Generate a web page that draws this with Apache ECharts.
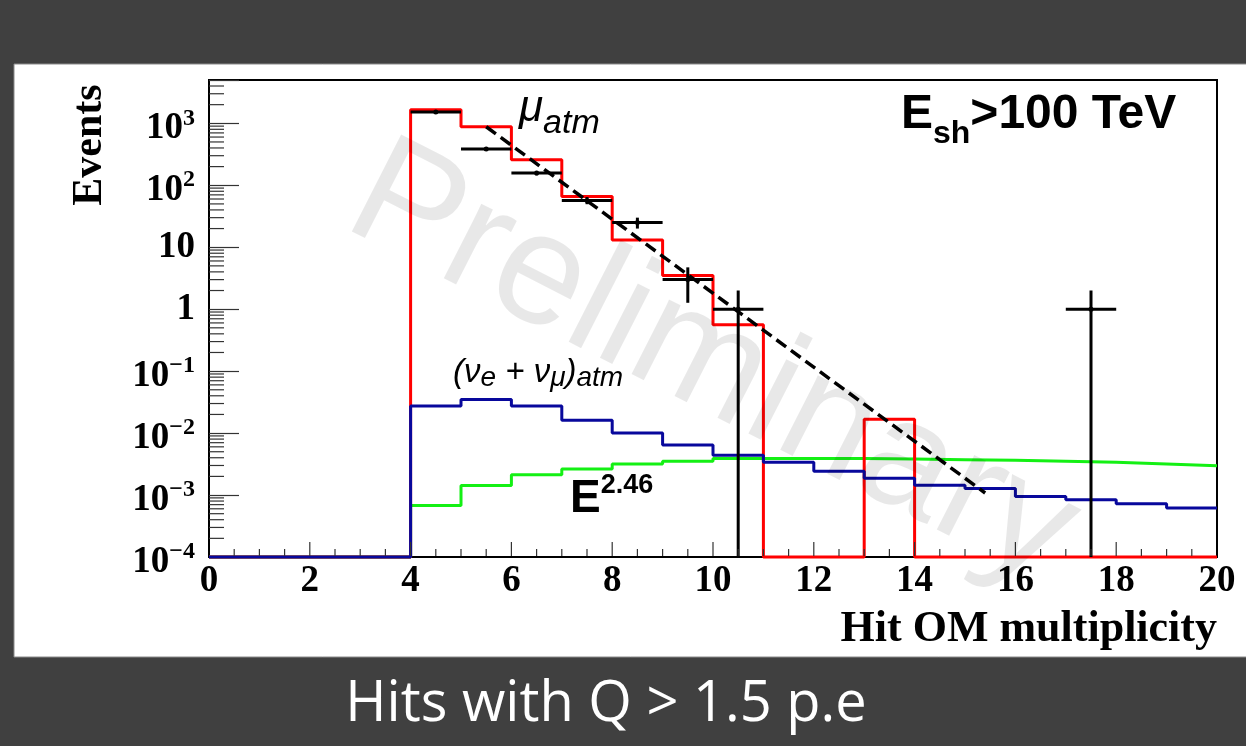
<!DOCTYPE html>
<html><head><meta charset="utf-8">
<script src="https://cdn.jsdelivr.net/npm/echarts@6/dist/echarts.min.js"></script>
<style>html,body{margin:0;padding:0;background:#404040;}#c{width:1246px;height:746px;}</style>
</head><body><div id="c"></div>
<script>
// ---- data ----
const X_MIN = 0, X_MAX = 20, Y_MIN = 1e-4, Y_MAX = 5000;
const binLow = [0,1,2,3,4,5,6,7,8,9,10,11,12,13,14,15,16,17,18,19];
// atmospheric muons (MC, red)
const muAtm = [0,0,0,0,1650,880,258,66,13.1,3.5,0.56,0,0,0.0168,0,0,0,0,0,0];
// atmospheric neutrinos (nu_e + nu_mu, blue)
const nuAtm = [0,0,0,0,0.0273,0.035,0.0273,0.0161,0.0100,0.0064,0.0044,0.00337,0.00242,0.00187,0.00144,0.00127,0.000947,0.000838,0.000722,0.000616];
// astrophysical E^-2.46 flux (green)
const astro = [0,0,0,0,0.00068,0.00142,0.00213,0.00264,0.00317,0.0035,0.0039,0.0039,0.00388,0.00381,0.00372,0.00363,0.0035,0.00337,0.00317,0.00298];
// observed data (black points, Poisson errors)
const dataX = [4.5,5.5,6.5,7.5,8.5,9.5,10.5,17.5];
const dataN = [1520,386,157,57,25,3,1,1];
// exponential fit (dashed)
const fitX = [5.5, 15.4];
const fitY = [880, 0.00108];
const xTickLabels = ['0','2','4','6','8','10','12','14','16','18','20'];

// ---- helpers ----
function stepData(vals){
  const d = binLow.map((x,i)=>[x, Math.max(vals[i], Y_MIN)]);
  d.push([X_MAX, Math.max(vals[vals.length-1], Y_MIN)]);
  return d;
}
const minorY = [];
for (let e=-4; e<=3; e++) for (let k=2; k<=9; k++){ const v=k*Math.pow(10,e); if (v<Y_MAX) minorY.push([X_MIN, v]); }
const ticksX = [];
for (let i=1; i<40; i++) ticksX.push([i*0.5, Y_MIN]);

const serif = 'Liberation Serif', sans = 'Liberation Sans';
const chart = echarts.init(document.getElementById('c'));
const option = {
  animation:false,
  backgroundColor:'#404040',
  grid:{left:209, top:80, width:1008, height:477, show:true, backgroundColor:'#fff', borderColor:'#000', borderWidth:2, containLabel:false, outerBoundsMode:'none'},
  xAxis:{type:'value', min:X_MIN, max:X_MAX, interval:2,
    axisLine:{lineStyle:{color:'#000', width:2}},
    axisTick:{show:false},
    splitLine:{show:false},
    axisLabel:{margin:6, color:'#000', fontFamily:serif, fontWeight:'bold', fontSize:37, lineHeight:37,
      formatter:(v)=>xTickLabels[Math.round(v/2)] ?? ''}
  },
  yAxis:{type:'log', logBase:10, min:Y_MIN, max:Y_MAX,
    axisLine:{show:true, lineStyle:{color:'#000', width:2}},
    axisTick:{show:true, inside:true, length:30, lineStyle:{color:'#333', width:1.2}},
    splitLine:{show:false},
    axisLabel:{margin:14, color:'#000', fontFamily:serif, fontWeight:'bold', fontSize:37,
      formatter:(v)=>{
        const l = Math.log10(v), e = Math.round(l);
        if (Math.abs(l-e) > 1e-6) return '';
        if (e===0) return '1';
        if (e===1) return '10';
        return '{b|10}{s|' + (e<0 ? '\u2212'+(-e) : e) + '}';
      },
      rich:{
        b:{fontFamily:serif, fontWeight:'bold', fontSize:37, color:'#000', padding:[10,0,0,0]},
        s:{fontFamily:serif, fontWeight:'bold', fontSize:24, color:'#000', padding:[0,0,10,0]}
      }
    }
  },
  series:[
    {type:'custom', name:'minorY', silent:true, clip:false, z:6,
      renderItem:(p,api)=>{ const c=api.coord([api.value(0), api.value(1)]);
        return {type:'line', shape:{x1:c[0], y1:c[1], x2:c[0]+15, y2:c[1]}, style:{stroke:'#333', lineWidth:1.2}}; },
      data:minorY},
    {type:'custom', name:'ticksX', silent:true, clip:false, z:6,
      renderItem:(p,api)=>{
        const x=api.value(0);
        const c=api.coord([x, api.value(1)]);
        const major = Math.abs(x/2 - Math.round(x/2)) < 1e-9;
        const len = major ? 14 : 7;
        return {type:'line', shape:{x1:c[0], y1:c[1]-1, x2:c[0], y2:c[1]-1-len}, style:{stroke:'#333', lineWidth:1.2}}; },
      data:ticksX},
    {type:'line', name:'astro', step:'end', data:stepData(astro), symbol:'none', clip:false, z:2,
      lineStyle:{color:'#14f014', width:3}},
    {type:'line', name:'muAtm', step:'end', data:stepData(muAtm), symbol:'none', clip:false, z:2,
      lineStyle:{color:'#ff0000', width:3}},
    {type:'line', name:'nuAtm', step:'end', data:stepData(nuAtm), symbol:'none', clip:false, z:3,
      lineStyle:{color:'#08089c', width:3}},
    {type:'custom', name:'data', clip:false, z:4,
      renderItem:(p,api)=>{
        const x=api.value(0), n=api.value(1), err=Math.sqrt(n);
        const lo=Math.max(n-err, Y_MIN), hi=n+err;
        const c=api.coord([x,n]), l=api.coord([x-0.5,n]), r=api.coord([x+0.5,n]);
        const a=api.coord([x,lo]), b=api.coord([x,hi]);
        return {type:'group', children:[
          {type:'line', shape:{x1:l[0],y1:l[1],x2:r[0],y2:r[1]}, style:{stroke:'#000', lineWidth:3}},
          {type:'line', shape:{x1:a[0],y1:a[1],x2:b[0],y2:b[1]}, style:{stroke:'#000', lineWidth:3}},
          {type:'circle', shape:{cx:c[0],cy:c[1],r:2.5}, style:{fill:'#000'}}
        ]};
      },
      data:dataX.map((x,i)=>[x, dataN[i]])},
    {type:'line', name:'fit', data:fitX.map((x,i)=>[x, fitY[i]]), symbol:'none', clip:false, z:5,
      lineStyle:{color:'#000', width:3.5, type:[12,6]}}
  ],
  graphic:[
    {type:'rect', z:-10, shape:{x:14, y:64, width:1240, height:593}, style:{fill:'#fff', stroke:'#8a8a8a', lineWidth:1}},
    {type:'text', x:90, y:145, rotation:Math.PI/2, z:10,
      style:{text:'Events', font:'bold 42px "Liberation Serif"', fill:'#000', align:'center', verticalAlign:'middle'}},
    {type:'text', x:1217, y:630, z:10,
      style:{text:'Hit OM multiplicity', font:'bold 44px "Liberation Serif"', fill:'#000', align:'right', verticalAlign:'middle'}},
    {type:'text', x:901, y:115, z:10,
      style:{text:'{a|E}{b|sh}{a|>100 TeV}', align:'left', verticalAlign:'middle',
        rich:{a:{fontFamily:sans, fontWeight:'bold', fontSize:48, fill:'#000'},
              b:{fontFamily:sans, fontWeight:'bold', fontSize:32, fill:'#000', padding:[38,0,0,0]}}}},
    {type:'text', x:519, y:109, z:10,
      style:{text:'{m|\u03bc}{a|atm}', align:'left', verticalAlign:'middle',
        rich:{m:{fontFamily:sans, fontStyle:'italic', fontSize:44, fill:'#000'},
              a:{fontFamily:sans, fontStyle:'italic', fontSize:34, fill:'#000', padding:[30,0,0,0]}}}},
    {type:'text', x:453, y:373, z:10,
      style:{text:'{n|(\u03bd}{s|e}{n| + \u03bd}{s|\u03bc}{n|)}{s|atm}', align:'left', verticalAlign:'middle',
        rich:{n:{fontFamily:sans, fontStyle:'italic', fontSize:33, fill:'#000'},
              s:{fontFamily:sans, fontStyle:'italic', fontSize:28, fill:'#000', padding:[10,0,0,0]}}}},
    {type:'text', x:570, y:499, z:10,
      style:{text:'{e|E}{p|2.46}', align:'left', verticalAlign:'middle',
        rich:{e:{fontFamily:sans, fontWeight:'bold', fontSize:46, fill:'#000'},
              p:{fontFamily:sans, fontWeight:'bold', fontSize:27, fill:'#000', padding:[0,0,27,0]}}}},
    {type:'text', x:712, y:366, rotation:-27*Math.PI/180, z:100, silent:true,
      style:{text:'Preliminary', font:'158px "Liberation Sans"', fill:'rgba(0,0,0,0.09)', align:'center', verticalAlign:'middle'}},
    {type:'text', x:606, y:705, z:10,
      style:{text:'Hits with Q > 1.5 p.e', font:'56px "Open Sans"', fill:'#fff', align:'center', verticalAlign:'middle'}}
  ]
};
chart.setOption(option);
</script></body></html>
